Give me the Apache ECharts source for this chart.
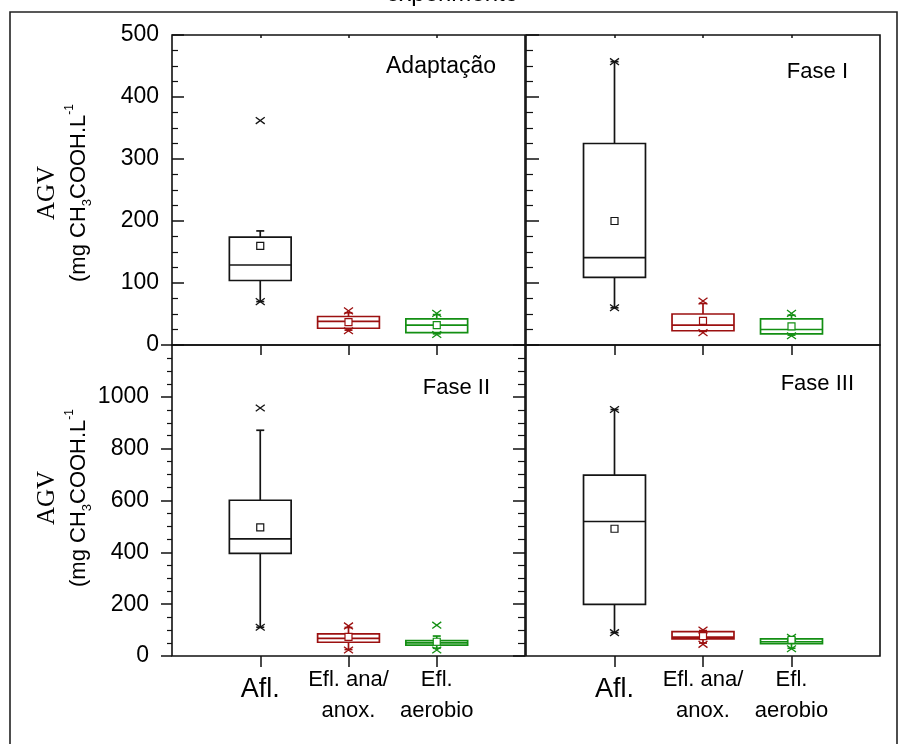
<!DOCTYPE html>
<html>
<head>
<meta charset="utf-8">
<script src="https://cdn.jsdelivr.net/npm/echarts@6/dist/echarts.min.js"></script>
<style>
html,body{margin:0;padding:0;background:#fff;}
#chart{width:904px;height:744px;}
</style>
</head>
<body>
<div id="chart"></div>
<script>
// ---------------- DATA ----------------
const categories = ['Afl.', 'Efl. ana/\nanox.', 'Efl.\naerobio'];
const panelNames = ['Adaptação', 'Fase I', 'Fase II', 'Fase III'];
const chartTitle = 'experimento';
const yTitleMain = 'AGV';
const upperYMax = 500;
const lowerYMax = 1200;

// Adaptação  (order: Afl., Efl. ana/anox., Efl. aerobio)
const adaptWhiskerLow  = [70, 24, 18];
const adaptQ1          = [104, 27, 20];
const adaptMedian      = [129, 38, 32];
const adaptQ3          = [174, 46, 42];
const adaptWhiskerHigh = [184, 52, 49];
const adaptMean        = [160, 37, 32];
const adaptMin         = [70, 23, 17];
const adaptMax         = [362, 55, 51];

// Fase I
const fase1WhiskerLow  = [60, 22, 16];
const fase1Q1          = [109, 23, 18];
const fase1Median      = [141, 32, 25];
const fase1Q3          = [325, 50, 42];
const fase1WhiskerHigh = [457, 67, 48];
const fase1Mean        = [200, 39, 30];
const fase1Min         = [60, 20, 15];
const fase1Max         = [457, 71, 51];

// Fase II
const fase2WhiskerLow  = [111, 25, 30];
const fase2Q1          = [396, 53, 42];
const fase2Median      = [452, 68, 51];
const fase2Q3          = [601, 85, 59];
const fase2WhiskerHigh = [871, 110, 77];
const fase2Mean        = [496, 74, 55];
const fase2Min         = [111, 23, 23];
const fase2Max         = [957, 116, 119];

// Fase III
const fase3WhiskerLow  = [90, 50, 30];
const fase3Q1          = [199, 66, 48];
const fase3Median      = [519, 73, 55];
const fase3Q3          = [698, 94, 66];
const fase3WhiskerHigh = [951, 98, 70];
const fase3Mean        = [491, 77, 62];
const fase3Min         = [90, 45, 28];
const fase3Max         = [951, 100, 72];

// ---------------- STYLE ----------------
const colors = ['#141414', '#9c1010', '#138f13'];
const SANS = '"Liberation Sans", Arial, sans-serif';
const SERIF = '"Liberation Serif", "Times New Roman", serif';
const AXC = '#111';
const BOX_W = 0.7;

function buildData(wl, q1, md, q3, wh, mean, mn, mx) {
  return categories.map((c, i) => [i + 1, wl[i], q1[i], md[i], q3[i], wh[i], mean[i], mn[i], mx[i]]);
}
const panelData = [
  buildData(adaptWhiskerLow, adaptQ1, adaptMedian, adaptQ3, adaptWhiskerHigh, adaptMean, adaptMin, adaptMax),
  buildData(fase1WhiskerLow, fase1Q1, fase1Median, fase1Q3, fase1WhiskerHigh, fase1Mean, fase1Min, fase1Max),
  buildData(fase2WhiskerLow, fase2Q1, fase2Median, fase2Q3, fase2WhiskerHigh, fase2Mean, fase2Min, fase2Max),
  buildData(fase3WhiskerLow, fase3Q1, fase3Median, fase3Q3, fase3WhiskerHigh, fase3Mean, fase3Min, fase3Max)
];

function renderBox(params, api) {
  const x = api.value(0);
  const c = colors[x - 1];
  const p = k => api.coord([x, api.value(k)]);
  const wl = p(1), q1 = p(2), md = p(3), q3 = p(4), wh = p(5), mean = p(6), mn = p(7), mx = p(8);
  const half = api.size([BOX_W, 0])[0] / 2;
  const cx = wl[0];
  const ls = { stroke: c, lineWidth: 1.7, fill: null };
  const cross = (pt) => ({
    type: 'path',
    shape: { pathData: `M${cx - 4.5},${pt[1] - 3.3}L${cx + 4.5},${pt[1] + 3.3}M${cx + 4.5},${pt[1] - 3.3}L${cx - 4.5},${pt[1] + 3.3}` },
    style: { stroke: c, lineWidth: 1.3, fill: null }
  });
  const cap = (pt) => ({ type: 'line', shape: { x1: cx - 4, y1: pt[1], x2: cx + 4, y2: pt[1] }, style: ls });
  return {
    type: 'group',
    children: [
      { type: 'line', shape: { x1: cx, y1: q3[1], x2: cx, y2: wh[1] }, style: ls },
      { type: 'line', shape: { x1: cx, y1: q1[1], x2: cx, y2: wl[1] }, style: ls },
      cap(wh), cap(wl),
      { type: 'rect', shape: { x: cx - half, y: q3[1], width: 2 * half, height: q1[1] - q3[1] }, style: { fill: 'rgba(0,0,0,0)', stroke: c, lineWidth: 1.7 } },
      { type: 'line', shape: { x1: cx - half, y1: md[1], x2: cx + half, y2: md[1] }, style: ls },
      cross(mn), cross(mx),
      { type: 'rect', shape: { x: cx - 3.5, y: mean[1] - 3.5, width: 7, height: 7 }, style: { fill: '#fff', stroke: c, lineWidth: 1.2 } }
    ]
  };
}

const grids = [
  { left: 172, top: 35, width: 353, height: 310 },
  { left: 526, top: 35, width: 354, height: 310 },
  { left: 172, top: 345, width: 353, height: 311 },
  { left: 526, top: 345, width: 354, height: 311 }
].map(g => Object.assign(g, { show: true, borderColor: AXC, borderWidth: 1.6, backgroundColor: 'rgba(0,0,0,0)' }));

const tickValues = categories.map((c, i) => i + 1);
function xAxisDef(gridIndex, position, tick, label) {
  return {
    gridIndex, type: 'value', min: 0, max: categories.length + 1, interval: 1, position,
    axisLine: { show: false }, splitLine: { show: false },
    axisTick: Object.assign({ show: true, customValues: tickValues, lineStyle: { color: AXC, width: 1.5 } }, tick),
    axisLabel: label || { show: false }
  };
}
const xLabel = {
  show: true,
  customValues: tickValues,
  margin: 8,
  formatter: (v) => {
    const c = categories[Math.round(v) - 1] || '';
    if (Math.round(v) === 1) return '{a|' + c + '}';
    return c.split('\n').map(s => '{b|' + s + '}').join('\n');
  },
  rich: {
    a: { fontSize: 27, lineHeight: 52, fontFamily: SANS, color: '#000' },
    b: { fontSize: 22, lineHeight: 31, fontFamily: SANS, color: '#000' }
  }
};

const xAxes = [
  xAxisDef(0, 'bottom', { inside: false, length: 10 }),
  xAxisDef(0, 'top', { inside: true, length: 3 }),
  xAxisDef(1, 'bottom', { inside: false, length: 10 }),
  xAxisDef(1, 'top', { inside: true, length: 3 }),
  xAxisDef(2, 'bottom', { inside: false, length: 11 }, xLabel),
  xAxisDef(3, 'bottom', { inside: false, length: 11 }, xLabel)
];

const numFmt = v => String(v);
function yAxisDef(gridIndex, max, interval, position, inside, len, minorLen, label) {
  return {
    gridIndex, type: 'value', min: 0, max, interval, position,
    axisLine: { show: false }, splitLine: { show: false },
    axisTick: { show: len > 0, inside, length: len, lineStyle: { color: AXC, width: 1.5 } },
    minorTick: { show: minorLen > 0, splitNumber: 4, length: minorLen, lineStyle: { color: AXC, width: 1.2 } },
    axisLabel: label || { show: false }
  };
}
const yAxes = [
  yAxisDef(0, upperYMax, 100, 'left', true, 12, 6, { show: true, fontSize: 23, fontFamily: SANS, color: '#000', margin: 13, formatter: numFmt }),
  yAxisDef(1, upperYMax, 100, 'left', true, 13, 7),
  yAxisDef(2, lowerYMax, 200, 'left', false, 11, 5, { show: true, fontSize: 23, fontFamily: SANS, color: '#000', margin: 23, showMaxLabel: false, formatter: numFmt }),
  yAxisDef(2, lowerYMax, 200, 'right', true, 12, 7),
  yAxisDef(3, lowerYMax, 200, 'left', true, 0, 0)
];

const seriesAxes = [[0, 0], [2, 1], [4, 2], [5, 4]];
const series = panelData.map((d, i) => ({
  type: 'custom',
  name: panelNames[i],
  xAxisIndex: seriesAxes[i][0],
  yAxisIndex: seriesAxes[i][1],
  renderItem: renderBox,
  encode: { x: 0, y: [1, 2, 3, 4, 5, 6, 7, 8] },
  data: d,
  silent: true
}));

// panel label positions (right edge, middle)
const panelLabelPos = [[496, 67], [848, 72], [490, 388], [854, 384]];
const yTitleText = '{t|' + yTitleMain + '}\n{n|(mg CH}{s|3}{n|COOH.L}{p|-1}';
const yTitleRich = {
  t: { fontFamily: SERIF, fontSize: 25, lineHeight: 34, fill: '#000' },
  n: { fontFamily: SANS, fontSize: 22, lineHeight: 30, fill: '#000' },
  s: { fontFamily: SANS, fontSize: 13, lineHeight: 14, verticalAlign: 'bottom', fill: '#000' },
  p: { fontFamily: SANS, fontSize: 12, lineHeight: 14, verticalAlign: 'top', fill: '#000' }
};

const graphic = [
  { type: 'rect', silent: true, shape: { x: 10, y: 12, width: 887, height: 760 }, style: { fill: 'none', stroke: '#222', lineWidth: 1.6 } },
  { type: 'text', x: 452, y: -6, style: { text: chartTitle, font: '24px ' + SANS, fill: '#000', align: 'center', verticalAlign: 'middle' } },
  ...panelNames.map((n, i) => ({
    type: 'text', x: panelLabelPos[i][0], y: panelLabelPos[i][1],
    style: { text: n, font: (i === 0 ? '23px ' : '22px ') + SANS, fill: '#000', align: 'right', verticalAlign: 'middle' }
  })),
  { type: 'text', x: 62, y: 193, rotation: Math.PI / 2, style: { text: yTitleText, rich: yTitleRich, align: 'center', verticalAlign: 'middle' } },
  { type: 'text', x: 62, y: 498, rotation: Math.PI / 2, style: { text: yTitleText, rich: yTitleRich, align: 'center', verticalAlign: 'middle' } }
];

const chart = echarts.init(document.getElementById('chart'), null, { renderer: 'canvas' });
chart.setOption({
  animation: false,
  backgroundColor: '#fff',
  grid: grids,
  xAxis: xAxes,
  yAxis: yAxes,
  series,
  graphic
});
</script>
</body>
</html>
